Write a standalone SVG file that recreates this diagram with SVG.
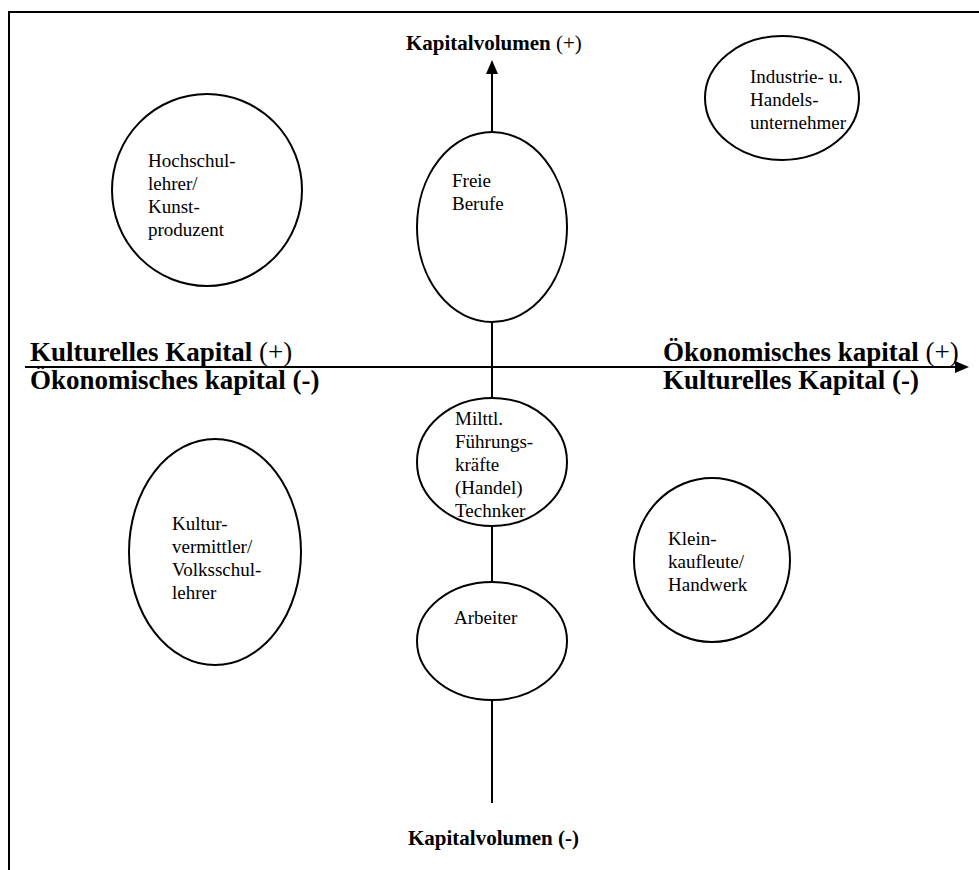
<svg xmlns="http://www.w3.org/2000/svg" width="979" height="870" viewBox="0 0 979 870">
<defs>
<style>
.ax{stroke:#000;stroke-width:2;fill:none}
.node ellipse{fill:#fff;stroke:#000;stroke-width:2}
.t{font-family:"Liberation Serif","Times New Roman",serif;font-size:19px;fill:#000}
.h{font-family:"Liberation Serif","Times New Roman",serif;font-size:21px;fill:#000}
.k{font-family:"Liberation Serif","Times New Roman",serif;font-size:27px;fill:#000}
.b{font-weight:bold}
</style>
<marker id="ah" markerWidth="14" markerHeight="12" refX="0" refY="6" orient="auto" markerUnits="userSpaceOnUse"><path d="M0,0 L14,6 L0,12 z" fill="#000"/></marker>
</defs>
<rect width="979" height="870" fill="#fff"/>
<path d="M9,870 V12 H979" stroke="#000" stroke-width="2" fill="none"/>
<g id="connectors">
<line class="ax" x1="492" y1="803" x2="492" y2="74" marker-end="url(#ah)"/>
<line class="ax" x1="25" y1="367" x2="955" y2="367" marker-end="url(#ah)"/>
</g>
<g id="labels">
<text class="h" x="406" y="50"><tspan class="b">Kapitalvolumen</tspan> (+)</text>
<text class="h b" x="408" y="845">Kapitalvolumen (-)</text>
<text class="k" x="30" y="361"><tspan class="b">Kulturelles Kapital</tspan> (+)</text>
<text class="k b" x="30" y="389">Ökonomisches kapital (-)</text>
<text class="k" x="663" y="361"><tspan class="b">Ökonomisches kapital</tspan> (+)</text>
<text class="k b" x="663" y="389">Kulturelles Kapital (-)</text>
</g>
<g id="hochschullehrer" class="node">
<ellipse cx="207" cy="190" rx="95" ry="96"/>
<text class="t" x="148" y="167"><tspan x="148">Hochschul-</tspan><tspan x="148" dy="23">lehrer/</tspan><tspan x="148" dy="23">Kunst-</tspan><tspan x="148" dy="23">produzent</tspan></text>
</g>
<g id="industrie" class="node">
<ellipse cx="782" cy="98" rx="77" ry="62"/>
<text class="t" x="750" y="83"><tspan x="750">Industrie- u.</tspan><tspan x="750" dy="23">Handels-</tspan><tspan x="750" dy="23">unternehmer</tspan></text>
</g>
<g id="freie-berufe" class="node">
<ellipse cx="492" cy="227" rx="75" ry="95"/>
<text class="t" x="452" y="187"><tspan x="452">Freie</tspan><tspan x="452" dy="23">Berufe</tspan></text>
</g>
<g id="mittl" class="node">
<ellipse cx="492" cy="462" rx="75" ry="64"/>
<text class="t" x="455" y="425"><tspan x="455">Milttl.</tspan><tspan x="455" dy="23">Führungs-</tspan><tspan x="455" dy="23">kräfte</tspan><tspan x="455" dy="23">(Handel)</tspan><tspan x="455" dy="23">Technker</tspan></text>
</g>
<g id="kulturvermittler" class="node">
<ellipse cx="215" cy="552" rx="86" ry="113"/>
<text class="t" x="172" y="530"><tspan x="172">Kultur-</tspan><tspan x="172" dy="23">vermittler/</tspan><tspan x="172" dy="23">Volksschul-</tspan><tspan x="172" dy="23">lehrer</tspan></text>
</g>
<g id="kleinkaufleute" class="node">
<ellipse cx="712" cy="560" rx="78" ry="82"/>
<text class="t" x="668" y="545"><tspan x="668">Klein-</tspan><tspan x="668" dy="23">kaufleute/</tspan><tspan x="668" dy="23">Handwerk</tspan></text>
</g>
<g id="arbeiter" class="node">
<ellipse cx="492" cy="641" rx="75" ry="59"/>
<text class="t" x="454" y="624">Arbeiter</text>
</g>
</svg>
